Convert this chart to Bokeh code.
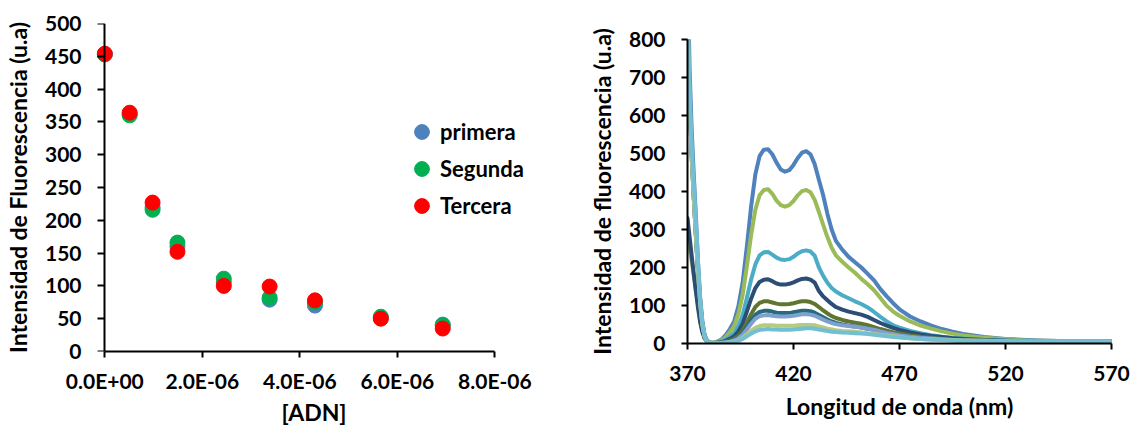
from bokeh.plotting import figure
from bokeh.layouts import row
from bokeh.models import (Range1d, FixedTicker, CustomJSTickFormatter, Legend,
                          LegendItem, ColumnDataSource, LinearAxis)
from bokeh.embed import file_html
from bokeh.resources import INLINE

FONT = "Lato"

# ---------------- left chart data ----------------
adn = [0.0, 5.1e-7, 9.8e-7, 1.49e-6, 2.44e-6, 3.38e-6, 4.31e-6, 5.66e-6, 6.93e-6]
primera = [453, 362, 220, 160, 105, 79, 70, 51, 41]
segunda = [453, 360, 216, 166, 111, 82, 75, 53, 40]
tercera = [454, 364, 227, 152, 100, 99, 78, 50, 35]
scatter_names = ["primera", "Segunda", "Tercera"]
scatter_colors = ["#4F81BD", "#00B050", "#FF0000"]
left_x_ticks = [0.0, 2e-6, 4e-6, 6e-6, 8e-6]
left_y_ticks = [0, 50, 100, 150, 200, 250, 300, 350, 400, 450, 500]

# ---------------- right chart data ----------------
wl = [370, 371, 372, 373, 374, 375, 376, 377, 378, 379, 380,
      382, 384, 386, 388, 390, 392, 394, 396, 398, 400, 402, 404, 406, 408, 410,
      412, 414, 416, 418, 420, 422, 424, 426, 428, 430, 432, 434, 436, 438, 440,
      443, 446, 449, 452, 455, 458, 461, 464, 467, 470,
      475, 480, 485, 490, 495, 500,
      510, 520, 530, 540, 550, 560, 570]
s1 = [1000, 720, 560, 440, 330, 210, 120, 60, 25, 10, 4,
      2, 5, 10, 22, 38, 58, 98, 160, 255, 360, 445, 493, 510, 511, 498,
      476, 458, 452, 456, 470, 488, 502, 506, 498, 472, 430, 390, 341, 300, 270,
      247, 228, 214, 200, 183, 166, 143, 124, 106, 90,
      71, 58, 47, 38, 31, 25,
      17, 12, 9, 7, 6, 5, 5]
s2 = [280, 250, 215, 180, 140, 100, 62, 35, 16, 7, 3,
      2, 4, 8, 17, 30, 46, 78, 127, 203, 285, 352, 390, 404, 406, 394,
      376, 364, 360, 364, 375, 390, 401, 404, 398, 378, 346, 312, 280, 252, 232,
      215, 200, 186, 170, 156, 140, 120, 99, 84, 73,
      58, 47, 39, 32, 26, 21,
      15, 11, 8, 7, 6, 5, 5]
s3 = [880, 650, 500, 390, 290, 190, 108, 52, 22, 8, 3,
      1, 2, 5, 10, 18, 27, 46, 75, 120, 168, 208, 232, 240, 241, 234,
      226, 221, 220, 222, 228, 237, 243, 245, 242, 231, 200, 178, 160, 146, 137,
      127, 119, 111, 104, 95, 83, 70, 58, 48, 42,
      33, 27, 22, 18, 15, 13,
      10, 8, 7, 6, 5, 5, 5]
s4 = [330, 280, 230, 180, 135, 92, 55, 30, 14, 6, 2,
      1, 2, 3, 7, 12, 19, 32, 52, 84, 118, 146, 162, 168, 169, 164,
      158, 155, 155, 157, 161, 166, 170, 171, 168, 160, 138, 124, 114, 104, 96,
      89, 84, 80, 76, 70, 62, 54, 47, 41, 36,
      29, 24, 20, 17, 14, 12,
      9, 7, 6, 5, 5, 5, 5]
s5 = [850, 640, 490, 380, 280, 185, 105, 50, 20, 7, 2,
      1, 1, 2, 5, 8, 13, 21, 34, 55, 77, 96, 107, 111, 111, 108,
      105, 103, 103, 104, 106, 109, 111, 111, 109, 104, 96, 87, 79, 72, 67,
      62, 58, 55, 52, 48, 43, 38, 34, 30, 27,
      22, 18, 15, 12, 10, 9,
      7, 6, 5, 5, 5, 5, 5]
s6 = [850, 640, 490, 380, 280, 185, 105, 50, 20, 7, 2,
      1, 1, 2, 4, 6, 10, 16, 27, 43, 60, 75, 83, 86, 86, 84,
      81, 80, 80, 80, 82, 84, 86, 86, 85, 81, 75, 69, 63, 58, 54,
      50, 47, 45, 42, 39, 36, 32, 28, 25, 22,
      18, 15, 13, 11, 9, 8,
      7, 6, 5, 5, 5, 5, 5]
s7 = [850, 640, 490, 380, 280, 185, 105, 50, 20, 7, 2,
      1, 1, 2, 3, 5, 8, 14, 23, 37, 52, 65, 72, 74, 75, 73,
      72, 71, 71, 72, 73, 75, 77, 77, 76, 73, 68, 63, 58, 54, 51,
      48, 46, 44, 42, 39, 36, 32, 28, 25, 22,
      18, 15, 13, 11, 9, 8,
      7, 6, 5, 5, 5, 5, 5]
s8 = [850, 640, 490, 380, 280, 185, 105, 50, 20, 7, 2,
      1, 1, 1, 2, 4, 5, 9, 15, 24, 33, 41, 46, 48, 48, 48,
      47, 47, 47, 47, 47, 48, 49, 49, 49, 48, 45, 42, 39, 37, 35,
      33, 32, 31, 29, 27, 25, 23, 21, 19, 17,
      14, 12, 11, 10, 9, 8,
      7, 6, 5, 5, 5, 5, 5]
s9 = [900, 660, 520, 420, 320, 210, 115, 55, 22, 8, 3,
      1, 1, 1, 2, 3, 4, 7, 12, 19, 26, 32, 36, 37, 38, 37,
      37, 36, 36, 36, 37, 38, 39, 40, 40, 39, 37, 35, 33, 31, 30,
      29, 28, 27, 26, 25, 23, 21, 19, 17, 16,
      14, 12, 10, 9, 8, 7,
      6, 5, 5, 5, 5, 5, 5]
spectra = [s1, s2, s3, s4, s5, s6, s7, s8, s9]
spectra_colors = ["#4F81BD", "#9BBB59", "#4BACC6", "#2C4D75", "#5F7530",
                  "#276A7C", "#7EA0CF", "#B5CB84", "#72BED3"]
right_x_ticks = [370, 420, 470, 520, 570]
right_y_ticks = [0, 100, 200, 300, 400, 500, 600, 700, 800]

TICK_PX = "21px"
TITLE_PX = "23px"


def style_axis(ax, label, label_standoff, title_standoff, tick_out):
    ax.axis_label = label
    ax.axis_label_text_font = FONT
    ax.axis_label_text_font_style = "bold"
    ax.axis_label_text_font_size = TITLE_PX
    ax.axis_label_text_color = "black"
    ax.axis_label_standoff = title_standoff
    ax.major_label_text_font = FONT
    ax.major_label_text_font_style = "bold"
    ax.major_label_text_font_size = TICK_PX
    ax.major_label_text_color = "black"
    ax.major_label_standoff = label_standoff
    ax.major_tick_in = 0
    ax.major_tick_out = tick_out
    ax.minor_tick_in = 0
    ax.minor_tick_out = 0
    ax.axis_line_color = "black"
    ax.axis_line_width = 2
    ax.major_tick_line_color = "black"
    ax.major_tick_line_width = 2


def no_align(p):
    if "frame_align" in p.properties():
        p.frame_align = False


# ---------------- left figure ----------------
p1 = figure(width=575, height=428, x_range=Range1d(-1.7e-7, 8.75e-6),
            y_range=Range1d(0, 500), output_backend="svg", toolbar_location=None,
            min_border_left=93, min_border_right=44, min_border_top=23,
            min_border_bottom=77)
no_align(p1)
p1.xgrid.visible = False
p1.ygrid.visible = False
p1.outline_line_color = None

renderers = []
for ys, c in zip([primera, segunda, tercera], scatter_colors):
    src = ColumnDataSource(dict(x=adn, y=ys))
    r = p1.scatter("x", "y", source=src, size=15, fill_color=c, line_color=c)
    renderers.append(r)

xax1 = p1.below[0]
yax1 = p1.left[0]
style_axis(xax1, "[ADN]", 10, 2, 6)
style_axis(yax1, "Intensidad de Fluorescencia (u.a)", 15, 10, 0)
xax1.ticker = FixedTicker(ticks=left_x_ticks, minor_ticks=[])
yax1.ticker = FixedTicker(ticks=left_y_ticks, minor_ticks=[])
xax1.bounds = (0, 8e-6)
yax1.axis_line_color = None
yax1.major_tick_line_color = None
xax1.formatter = CustomJSTickFormatter(code="""
    const s = tick.toExponential(1);
    const parts = s.split('e');
    const sign = parts[1][0];
    const d = parts[1].slice(1).padStart(2, '0');
    return parts[0] + 'E' + sign + d;
""")

# y axis line and ticks drawn at x = 0
zero_axis = LinearAxis(fixed_location=0,
                       ticker=FixedTicker(ticks=left_y_ticks, minor_ticks=[]),
                       formatter=CustomJSTickFormatter(code="return '';"),
                       major_tick_in=7, major_tick_out=0,
                       minor_tick_in=0, minor_tick_out=0,
                       major_label_standoff=0,
                       axis_line_color="black", axis_line_width=2,
                       major_tick_line_color="black", major_tick_line_width=2)
p1.add_layout(zero_axis, "right")

legend = Legend(
    items=[LegendItem(label=n, renderers=[r]) for n, r in zip(scatter_names, renderers)],
    location=(307, 127), glyph_width=37, glyph_height=37, spacing=0,
    padding=0, margin=0, label_standoff=0,
    label_text_font=FONT, label_text_font_style="bold",
    label_text_font_size="22px", label_text_color="black",
    border_line_color=None, background_fill_alpha=0)
p1.add_layout(legend)

# ---------------- right figure ----------------
p2 = figure(width=555, height=428, x_range=Range1d(370, 570),
            y_range=Range1d(0, 800), output_backend="svg", toolbar_location=None,
            min_border_left=112, min_border_right=19, min_border_top=39,
            min_border_bottom=85)
no_align(p2)
p2.xgrid.visible = False
p2.ygrid.visible = False
p2.outline_line_color = None

for s, c in zip(spectra, spectra_colors):
    src = ColumnDataSource(dict(x=wl, y=s))
    p2.line("x", "y", source=src, line_color=c, line_width=4,
            line_join="round", line_cap="round")

style_axis(p2.xaxis[0], "Longitud de onda (nm)", 16, 8, 6)
style_axis(p2.yaxis[0], "Intensidad de fluorescencia (u.a)", 16, 10, 6)
p2.xaxis.ticker = FixedTicker(ticks=right_x_ticks, minor_ticks=[])
p2.yaxis.ticker = FixedTicker(ticks=right_y_ticks, minor_ticks=[])

layout = row(p1, p2)
open("out.html", "w").write(file_html(layout, INLINE))
